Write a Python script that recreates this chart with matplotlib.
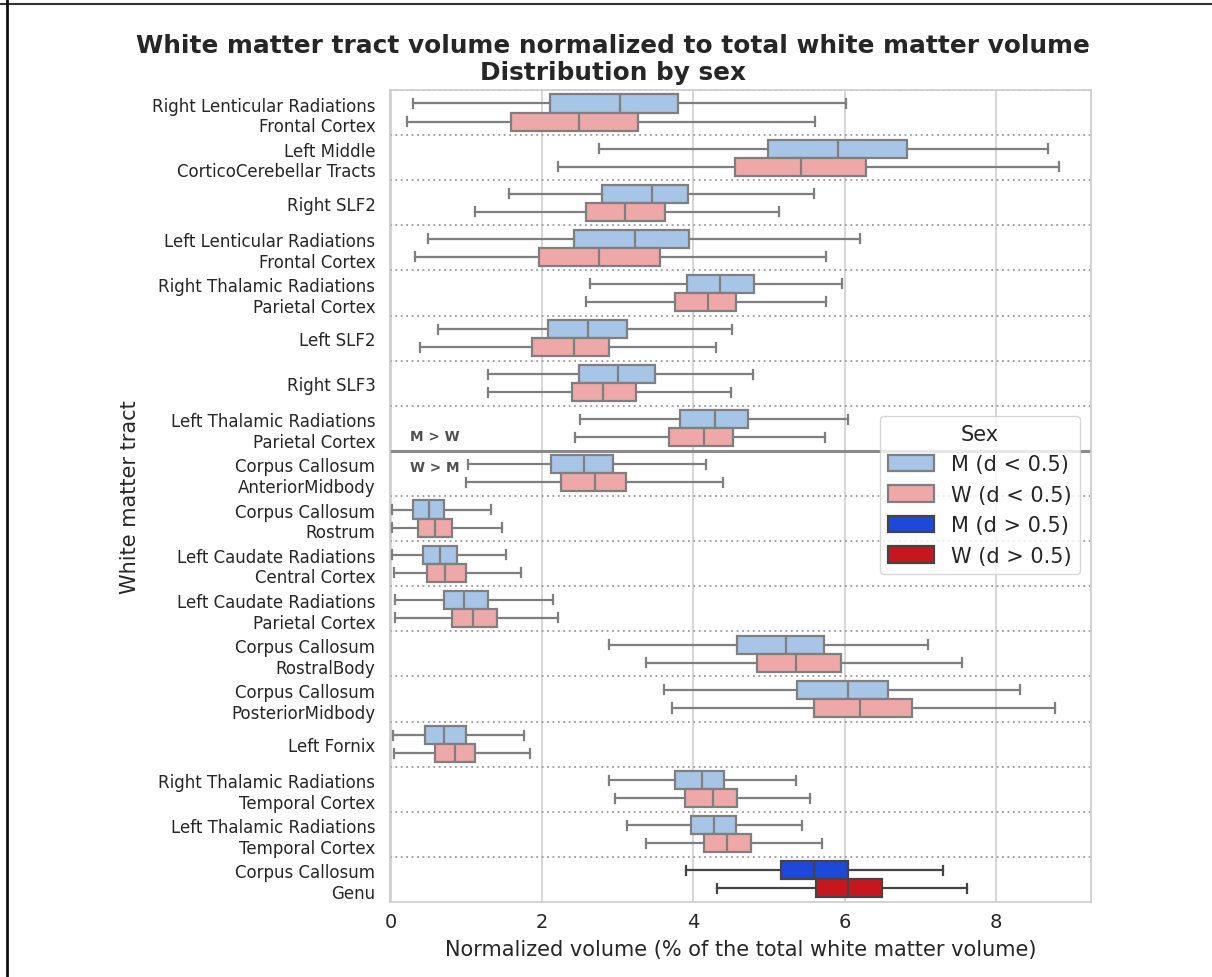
import matplotlib
matplotlib.use("Agg")
import matplotlib.pyplot as plt
from matplotlib.lines import Line2D
from matplotlib.patches import Patch

plt.rcParams['font.family'] = ['DejaVu Sans']

tracts = [
    "Right Lenticular Radiations\nFrontal Cortex",
    "Left Middle\nCorticoCerebellar Tracts",
    "Right SLF2",
    "Left Lenticular Radiations\nFrontal Cortex",
    "Right Thalamic Radiations\nParietal Cortex",
    "Left SLF2",
    "Right SLF3",
    "Left Thalamic Radiations\nParietal Cortex",
    "Corpus Callosum\nAnteriorMidbody",
    "Corpus Callosum\nRostrum",
    "Left Caudate Radiations\nCentral Cortex",
    "Left Caudate Radiations\nParietal Cortex",
    "Corpus Callosum\nRostralBody",
    "Corpus Callosum\nPosteriorMidbody",
    "Left Fornix",
    "Right Thalamic Radiations\nTemporal Cortex",
    "Left Thalamic Radiations\nTemporal Cortex",
    "Corpus Callosum\nGenu",
]

# Box summaries for men (M)
m_low = [0.29, 2.75, 1.56, 0.49, 2.64, 0.63, 1.28, 2.50, 1.02, 0.02, 0.02, 0.05, 2.89, 3.61, 0.03, 2.88, 3.12, 3.91]
m_q1 = [2.10, 4.99, 2.79, 2.42, 3.92, 2.08, 2.49, 3.83, 2.12, 0.29, 0.43, 0.70, 4.58, 5.37, 0.45, 3.76, 3.97, 5.16]
m_med = [3.03, 5.92, 3.45, 3.23, 4.35, 2.61, 3.00, 4.29, 2.56, 0.50, 0.65, 0.97, 5.22, 6.04, 0.70, 4.11, 4.28, 5.59]
m_q3 = [3.80, 6.82, 3.93, 3.94, 4.80, 3.13, 3.49, 4.72, 2.94, 0.70, 0.87, 1.29, 5.73, 6.57, 0.99, 4.41, 4.56, 6.05]
m_high = [6.02, 8.69, 5.60, 6.21, 5.97, 4.51, 4.79, 6.04, 4.17, 1.33, 1.53, 2.14, 7.11, 8.32, 1.76, 5.36, 5.44, 7.30]

# Box summaries for women (W)
w_low = [0.21, 2.21, 1.11, 0.32, 2.58, 0.38, 1.28, 2.43, 1.00, 0.01, 0.04, 0.06, 3.37, 3.72, 0.04, 2.97, 3.38, 4.31]
w_q1 = [1.59, 4.55, 2.58, 1.96, 3.76, 1.87, 2.39, 3.68, 2.25, 0.36, 0.48, 0.81, 4.84, 5.59, 0.58, 3.89, 4.14, 5.62]
w_med = [2.49, 5.43, 3.10, 2.76, 4.20, 2.42, 2.81, 4.14, 2.70, 0.58, 0.72, 1.09, 5.36, 6.20, 0.85, 4.26, 4.45, 6.05]
w_q3 = [3.27, 6.28, 3.62, 3.56, 4.57, 2.88, 3.24, 4.53, 3.11, 0.81, 0.99, 1.40, 5.96, 6.89, 1.11, 4.58, 4.76, 6.49]
w_high = [5.61, 8.83, 5.14, 5.75, 5.75, 4.30, 4.50, 5.74, 4.39, 1.47, 1.72, 2.21, 7.56, 8.78, 1.84, 5.54, 5.70, 7.62]

# Effect size flag: True where Cohen's d > 0.5
large_effect = [False] * 17 + [True]

# Index of the last tract where M > W
split_after = 7

legend_labels = ["M (d < 0.5)", "W (d < 0.5)", "M (d > 0.5)", "W (d > 0.5)"]

col_m_small = "#a7c5e6"
col_w_small = "#eea8a7"
col_m_large = "#1d48d9"
col_w_large = "#c8161e"
edge_small = "#7f7f7f"
edge_large = "#444444"
text_col = "#262626"

fig = plt.figure(figsize=(12.12, 9.78), dpi=100)
ax = fig.add_axes([0.3218, 0.0767, 0.5784, 0.8303])


def stats(low, q1, med, q3, high):
    return [dict(whislo=a, q1=b, med=c, q3=d, whishi=e, fliers=[])
            for a, b, c, d, e in zip(low, q1, med, q3, high)]


m_stats = stats(m_low, m_q1, m_med, m_q3, m_high)
w_stats = stats(w_low, w_q1, w_med, w_q3, w_high)

for i in range(len(tracts)):
    big = large_effect[i]
    for st, off, col in ((m_stats[i], -0.2, col_m_large if big else col_m_small),
                         (w_stats[i], 0.2, col_w_large if big else col_w_small)):
        ec = edge_large if big else edge_small
        lp = dict(color=ec, linewidth=1.6)
        ax.bxp([st], positions=[i + off], widths=0.4, vert=False,
               patch_artist=True, showfliers=False, capwidths=0.2,
               boxprops=dict(facecolor=col, edgecolor=ec, linewidth=1.6),
               medianprops=lp, whiskerprops=lp, capprops=lp,
               manage_ticks=False, zorder=3)

# Separators between tracts
for k in range(-1, len(tracts) - 1):
    if k == split_after:
        ax.axhline(k + 0.5, color="#8a8a8a", lw=2.2, zorder=2)
    else:
        ax.axhline(k + 0.5, color="#9a9a9a", lw=1.3, ls=(0, (1, 2)), zorder=2)

ax.text(0.25, split_after + 0.18, "M > W", fontsize=9.8, fontweight="bold",
        color="#505050", va="center", ha="left", zorder=4)
ax.text(0.25, split_after + 0.86, "W > M", fontsize=9.8, fontweight="bold",
        color="#505050", va="center", ha="left", zorder=4)

ax.set_xlim(-0.01, 9.26)
ax.set_ylim(len(tracts) - 0.5, -0.5)
ax.set_yticks(range(len(tracts)))
ax.set_yticklabels(tracts, fontsize=12, color=text_col)
ax.set_xticks([0, 2, 4, 6, 8])
ax.tick_params(axis="x", labelsize=14, length=0, pad=7, labelcolor=text_col)
ax.tick_params(axis="y", length=0, pad=10.5)

ax.grid(axis="x", color="#cccccc", lw=1.1, zorder=0)
ax.grid(axis="y", visible=False)
ax.set_axisbelow(True)
for sp in ax.spines.values():
    sp.set_color("#cccccc")
    sp.set_linewidth(1.2)

ax.set_xlabel("Normalized volume (% of the total white matter volume)",
              fontsize=15, color=text_col, labelpad=6)
ax.set_ylabel("White matter tract", fontsize=15, color=text_col)
ax.yaxis.set_label_coords(-0.357, 0.5)

handles = [
    Patch(facecolor=col_m_small, edgecolor=edge_small, linewidth=1.6),
    Patch(facecolor=col_w_small, edgecolor=edge_small, linewidth=1.6),
    Patch(facecolor=col_m_large, edgecolor=edge_large, linewidth=1.6),
    Patch(facecolor=col_w_large, edgecolor=edge_large, linewidth=1.6),
]
leg = ax.legend(handles, legend_labels, title="Sex", fontsize=15,
                title_fontsize=15, loc="upper right",
                bbox_to_anchor=(0.984, 0.599), borderaxespad=0,
                handlelength=2.2, handleheight=0.85, framealpha=0.8,
                edgecolor="#cccccc", fancybox=True)
for t in leg.get_texts():
    t.set_color(text_col)
leg.get_title().set_color(text_col)

fig.suptitle("White matter tract volume normalized to total white matter volume\n"
             "Distribution by sex", fontsize=17.8, fontweight="bold",
             x=0.506, y=0.965, va="top", color=text_col, linespacing=1.17)

# Outer frame edges
fig.add_artist(Line2D([0, 1], [0.9949, 0.9949], transform=fig.transFigure,
                      color="#333333", lw=1.5))
fig.add_artist(Line2D([0.0058, 0.0058], [0, 1], transform=fig.transFigure,
                      color="#111111", lw=2.0))

fig.savefig("out.png", dpi=100)
